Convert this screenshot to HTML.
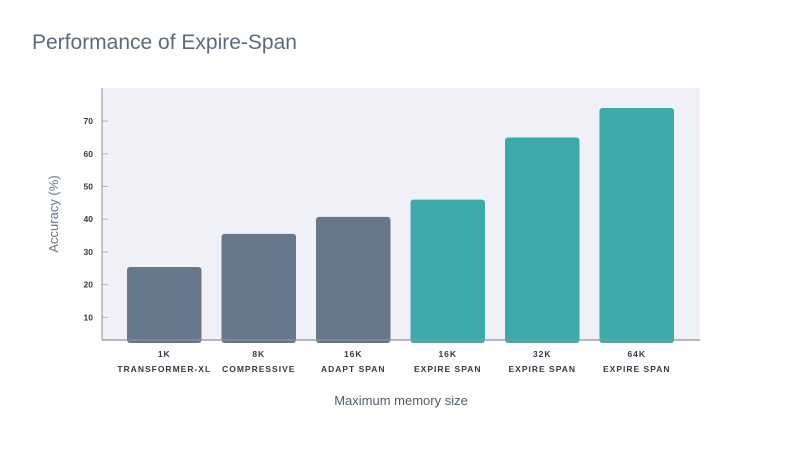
<!DOCTYPE html>
<html><head><meta charset="utf-8"><style>
body{margin:0;background:#fff;font-family:"Liberation Sans",sans-serif}
svg text{font-family:"Liberation Sans",sans-serif}
</style></head><body>
<svg width="800" height="449" viewBox="0 0 800 449">
<text x="32" y="49" font-size="21" fill="#5c6b7c">Performance of Expire-Span</text>
<rect x="102" y="88" width="598" height="252" fill="#f0f1f7"/>
<g id="bars"></g>
<g id="yticks"></g>
<g id="xlabels"></g>
<line x1="102" y1="88" x2="102" y2="340" stroke="#8a949e" stroke-width="1"/>
<line x1="102" y1="340" x2="700" y2="340" stroke="#8a949e" stroke-width="1.2"/>
<text transform="translate(58,214) rotate(-90)" text-anchor="middle" font-size="13" fill="#6a7887">Accuracy (%)</text>
<text x="401" y="405" text-anchor="middle" font-size="13" fill="#4f5d6b">Maximum memory size</text>
</svg>
<script>
const sizes=["1K","8K","16K","16K","32K","64K"];
const models=["TRANSFORMER-XL","COMPRESSIVE","ADAPT SPAN","EXPIRE SPAN","EXPIRE SPAN","EXPIRE SPAN"];
const values=[25.4,35.5,40.7,46,65,74];
const isExpire=[false,false,false,true,true,true];
const yTicks=[10,20,30,40,50,60,70];
const NS="http://www.w3.org/2000/svg";
const y=v=>350-v*3.27;
const band=94.5,x0=117;
const x=i=>x0+i*band;
const bars=document.getElementById('bars'),yt=document.getElementById('yticks'),xl=document.getElementById('xlabels');
values.forEach((v,i)=>{
  const r=document.createElementNS(NS,'rect');
  
  
  const top=y(v);
  r.setAttribute('x',x(i)+10);r.setAttribute('width',band-20);
  r.setAttribute('y',top);r.setAttribute('height',340-top+3);
  r.setAttribute('rx',3);
  r.setAttribute('fill',isExpire[i]?'#3ca9aa':'#66788a');
  bars.appendChild(r);
  [[sizes[i],357],[models[i],372]].forEach(([t,yy],k)=>{
    const tx=document.createElementNS(NS,'text');
    
    
    tx.setAttribute('x',x(i)+band/2);tx.setAttribute('y',yy);
    tx.setAttribute('text-anchor','middle');tx.setAttribute('font-size','8.5');
    tx.setAttribute('font-weight','bold');tx.setAttribute('letter-spacing','1');
    tx.setAttribute('fill','#333b44');tx.textContent=t;xl.appendChild(tx);
  });
});
yTicks.forEach(t=>{
  const yy=y(t);
  const l=document.createElementNS(NS,'line');
  
  
  l.setAttribute('x1',102);l.setAttribute('x2',108);l.setAttribute('y1',yy);l.setAttribute('y2',yy);
  l.setAttribute('stroke','#b0b6bd');yt.appendChild(l);
  const tx=document.createElementNS(NS,'text');
  
  
  tx.setAttribute('x',93);tx.setAttribute('y',yy+3);tx.setAttribute('text-anchor','end');
  tx.setAttribute('font-size','8.5');tx.setAttribute('font-weight','bold');tx.setAttribute('fill','#333b44');
  tx.textContent=t;yt.appendChild(tx);
});
</script>
</body></html>
